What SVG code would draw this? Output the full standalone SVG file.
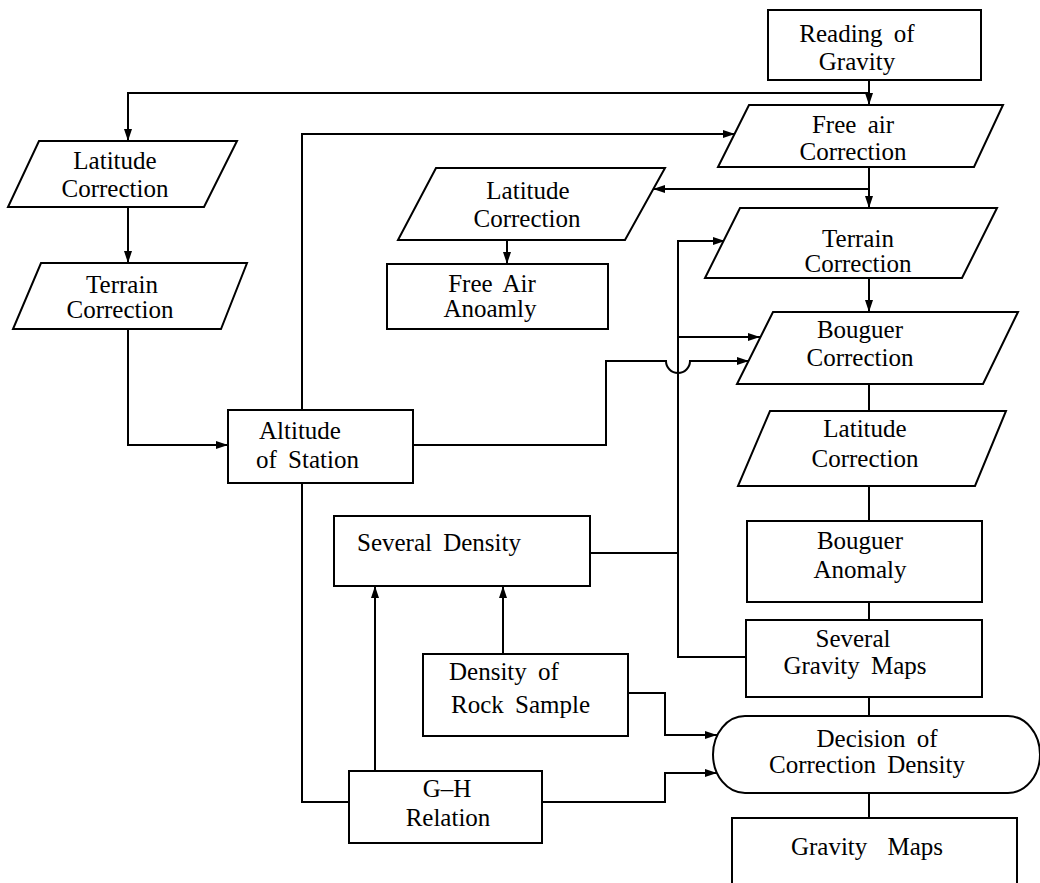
<svg xmlns="http://www.w3.org/2000/svg" width="1040" height="883" viewBox="0 0 1040 883">
<style>
.shape{fill:#fff;stroke:#000;stroke-width:2;stroke-linejoin:miter}
.ln{fill:none;stroke:#000;stroke-width:2}
.ar{marker-end:url(#ah)}
text{font-family:"Liberation Serif","Times New Roman",serif;font-size:25px;fill:#000}
.c{text-anchor:middle}
.ws{word-spacing:5px}
</style>
<defs>
<marker id="ah" viewBox="0 0 12 8" refX="12" refY="4" markerWidth="12" markerHeight="8" markerUnits="userSpaceOnUse" orient="auto">
<path d="M0,0 L12,4 L0,8 Z" fill="#000"/>
</marker>
</defs>
<rect width="1040" height="883" fill="#fff"/>

<g id="connectors">
<path class="ln ar" d="M869,80 V105"/>
<path class="ln ar" d="M869,93 H128 V141"/>
<path class="ln ar" d="M869,167 V208"/>
<path class="ln ar" d="M869,189 H653"/>
<path class="ln ar" d="M507,240 V264"/>
<path class="ln ar" d="M869,278 V312"/>
<path class="ln" d="M869,384 V411"/>
<path class="ln" d="M869,486 V521"/>
<path class="ln" d="M869,602 V620"/>
<path class="ln" d="M869,697 V716"/>
<path class="ln" d="M869,793 V818"/>
<path class="ln ar" d="M128,207 V263"/>
<path class="ln ar" d="M128,329 V445 H228"/>
<path class="ln ar" d="M302,410 V134 H735"/>
<path class="ln" d="M302,483 V802 H349"/>
<path class="ln ar" d="M413,445 H606 V361 H666 A12,12 0 0 0 690,361 H749"/>
<path class="ln ar" d="M746,657 H678 V241 H725"/>
<path class="ln ar" d="M678,337 H760"/>
<path class="ln" d="M590,553 H678"/>
<path class="ln ar" d="M375,771 V586"/>
<path class="ln ar" d="M503,654 V586"/>
<path class="ln ar" d="M628,693 H665 V735 H717"/>
<path class="ln ar" d="M542,802 H665 V773 H717"/>
</g>

<g id="reading-of-gravity">
<rect class="shape" x="768" y="10" width="213" height="70"/>
<text class="c ws" x="857" y="42">Reading of</text>
<text class="c" x="857" y="70">Gravity</text>
</g>

<g id="free-air-correction">
<path class="shape" d="M749,105 H1003 L974,167 H718 Z"/>
<text class="c ws" x="853" y="133">Free air</text>
<text class="c" x="853" y="160">Correction</text>
</g>

<g id="latitude-correction-left">
<path class="shape" d="M39,141 H237 L204,207 H8 Z"/>
<text class="c" x="115" y="169">Latitude</text>
<text class="c" x="115" y="197">Correction</text>
</g>

<g id="terrain-correction-left">
<path class="shape" d="M41,263 H247 L221,329 H13 Z"/>
<text class="c" x="122" y="293">Terrain</text>
<text class="c" x="120" y="318">Correction</text>
</g>

<g id="latitude-correction-mid">
<path class="shape" d="M436,168 H665 L625,240 H398 Z"/>
<text class="c" x="528" y="199">Latitude</text>
<text class="c" x="527" y="227">Correction</text>
</g>

<g id="free-air-anomaly">
<rect class="shape" x="387" y="264" width="221" height="65"/>
<text class="c ws" x="492" y="292">Free Air</text>
<text class="c" x="490" y="317">Anoamly</text>
</g>

<g id="terrain-correction-right">
<path class="shape" d="M740,208 H997 L962,278 H705 Z"/>
<text class="c" x="858" y="247">Terrain</text>
<text class="c" x="858" y="272">Correction</text>
</g>

<g id="bouguer-correction">
<path class="shape" d="M773,312 H1018 L983,384 H737 Z"/>
<text class="c" x="860" y="338">Bouguer</text>
<text class="c" x="860" y="366">Correction</text>
</g>

<g id="latitude-correction-right">
<path class="shape" d="M770,411 H1006 L975,486 H738 Z"/>
<text class="c" x="865" y="437">Latitude</text>
<text class="c" x="865" y="467">Correction</text>
</g>

<g id="bouguer-anomaly">
<rect class="shape" x="747" y="521" width="235" height="81"/>
<text class="c" x="860" y="549">Bouguer</text>
<text class="c" x="860" y="578">Anomaly</text>
</g>

<g id="altitude-of-station">
<rect class="shape" x="228" y="410" width="185" height="73"/>
<text x="259" y="439">Altitude</text>
<text class="ws" x="256" y="468">of Station</text>
</g>

<g id="several-density">
<rect class="shape" x="334" y="516" width="256" height="70"/>
<text class="ws" x="357" y="551">Several Density</text>
</g>

<g id="several-gravity-maps">
<rect class="shape" x="746" y="620" width="236" height="77"/>
<text class="c" x="853" y="647">Several</text>
<text class="c ws" x="855" y="674">Gravity Maps</text>
</g>

<g id="density-of-rock-sample">
<rect class="shape" x="423" y="654" width="205" height="82"/>
<text class="ws" x="449" y="680">Density of</text>
<text class="ws" x="451" y="713">Rock Sample</text>
</g>

<g id="g-h-relation">
<rect class="shape" x="349" y="771" width="193" height="72"/>
<text class="c" x="447" y="797">G–H</text>
<text class="c" x="448" y="826">Relation</text>
</g>

<g id="decision-of-correction-density">
<path class="shape" d="M745,716 H1008 A32,38.5 0 0 1 1008,793 H745 A32,38.5 0 0 1 745,716 Z"/>
<text class="c ws" x="877" y="747">Decision of</text>
<text class="c ws" x="867" y="773">Correction Density</text>
</g>

<g id="gravity-maps">
<path class="shape" d="M732,886 V818 H1017 V886"/>
<text class="c" x="867" y="855" style="word-spacing:14px">Gravity Maps</text>
</g>
</svg>
